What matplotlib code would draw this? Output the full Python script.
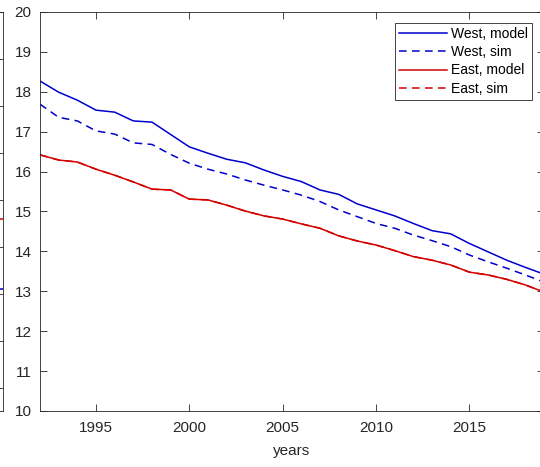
import numpy as np
import matplotlib
matplotlib.use("Agg")
import matplotlib.pyplot as plt

plt.rcParams["font.family"] = ["Liberation Sans", "DejaVu Sans"]

years = list(range(1992, 2020))
west_model = [18.27, 17.99, 17.79, 17.54, 17.49, 17.27, 17.24, 16.93, 16.62, 16.46,
              16.31, 16.22, 16.04, 15.88, 15.75, 15.54, 15.43, 15.19, 15.04, 14.89,
              14.70, 14.52, 14.44, 14.20, 13.99, 13.78, 13.60, 13.43]
west_sim = [17.69, 17.36, 17.27, 17.02, 16.94, 16.72, 16.68, 16.43, 16.21, 16.06,
            15.94, 15.79, 15.66, 15.54, 15.41, 15.25, 15.04, 14.87, 14.70, 14.58,
            14.41, 14.27, 14.12, 13.91, 13.74, 13.58, 13.41, 13.23]
east_model = [16.42, 16.29, 16.24, 16.06, 15.91, 15.74, 15.56, 15.54, 15.31, 15.29,
              15.16, 15.01, 14.89, 14.81, 14.69, 14.58, 14.39, 14.26, 14.16, 14.02,
              13.87, 13.78, 13.66, 13.48, 13.41, 13.30, 13.16, 12.98]
# east sim lies under the east model curve
east_sim = list(east_model)

# partially visible neighbouring panel (cropped at left)
left_x = [0.0, 1.0]
left_red = [15.59, 15.59]
left_blue = [14.10, 14.10]

BLUE = "#0000cc"
RED = "#d40000"
AX_COL = "#262626"
DASH = (0, (5, 3.5))

W, H = 540, 467
fig = plt.figure(figsize=(W / 100, H / 100), dpi=100)


def style(ax):
    for sp in ax.spines.values():
        sp.set_color(AX_COL)
        sp.set_linewidth(0.6)
    ax.tick_params(direction="in", length=5, width=0.6, color=AX_COL,
                   labelcolor=AX_COL, labelsize=11, top=True, right=True)
    ax.tick_params(axis="x", pad=7.5)
    ax.tick_params(axis="y", pad=6)


# cropped left panel
axl = fig.add_axes([-0.9, 1 - 411 / H, 0.9 + 3 / W, 399 / H])
axl.plot(left_x, left_red, color=RED, lw=1.1)
axl.plot(left_x, left_blue, color=BLUE, lw=1.1)
axl.set_xlim(0, 1.0)
axl.set_ylim(11.5, 20)
axl.set_yticks(np.arange(12, 21, 1))
style(axl)
axl.tick_params(labelleft=False, labelbottom=False, bottom=False, top=False)

# main panel
ax = fig.add_axes([40 / W, 1 - 411 / H, 504 / W, 399 / H])
ax.plot(years, west_model, color=BLUE, lw=1.1, label="West, model")
ax.plot(years, west_sim, color=BLUE, lw=1.1, ls=DASH, label="West, sim")
ax.plot(years, east_sim, color=RED, lw=1.1, ls=DASH, label="East, sim", zorder=1)
ax.plot(years, east_model, color=RED, lw=1.1, label="East, model", zorder=2)
ax.set_xlim(1992, 2019)
ax.set_ylim(10, 20)
ax.set_xticks([1995, 2000, 2005, 2010, 2015])
ax.set_yticks(np.arange(10, 21, 1))
style(ax)
ax.set_xlabel("years", fontsize=11, color=AX_COL, labelpad=6)

handles, labels = ax.get_legend_handles_labels()
order = [0, 1, 3, 2]
leg = ax.legend([handles[i] for i in order], [labels[i] for i in order],
                loc="upper right", bbox_to_anchor=(532 / W, 1 - 23 / H),
                bbox_transform=fig.transFigure, borderaxespad=0,
                fontsize=10, handlelength=3.4, handletextpad=0.3,
                labelspacing=0.3, borderpad=0.3, fancybox=False, framealpha=1)
leg.get_frame().set_edgecolor(AX_COL)
leg.get_frame().set_linewidth(0.6)

fig.savefig("out.png", dpi=100)
